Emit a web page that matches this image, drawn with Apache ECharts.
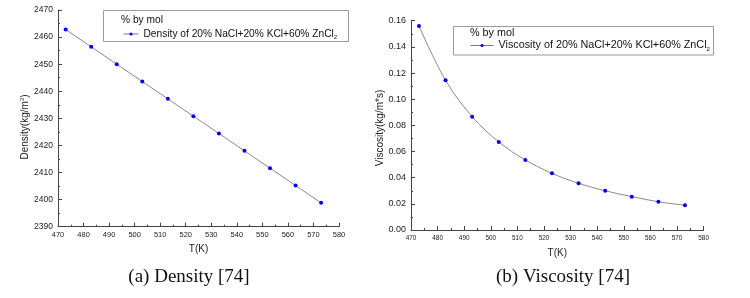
<!DOCTYPE html>
<html><head><meta charset="utf-8">
<script src="https://cdn.jsdelivr.net/npm/echarts@6/dist/echarts.min.js"></script>
<style>html,body{margin:0;padding:0;background:#fff}#c{width:750px;height:298px}</style>
</head><body><div id="c"></div>
<script>
const temps = [473, 483, 493, 503, 513, 523, 533, 543, 553, 563, 573];
const density = [2462.8, 2456.4, 2450.0, 2443.6, 2437.2, 2430.8, 2424.4, 2418.0, 2411.6, 2405.2, 2398.8];
const viscosity = [0.1559, 0.1144, 0.0866, 0.0673, 0.0535, 0.0433, 0.0357, 0.0300, 0.0255, 0.0216, 0.0189];
const densityName = 'Density of 20% NaCl+20% KCl+60% ZnCl2';
const viscosityName = 'Viscosity of 20% NaCl+20% KCl+60% ZnCl2';
const captions = ['(a) Density [74]', '(b) Viscosity [74]'];

const F = 'Liberation Sans, Arial, sans-serif';
const axisCol = '#444';
function xAx(gi, fs, margin) {
  return {
    type: 'value', gridIndex: gi, min: 470, max: 580, interval: 10,
    axisLine: {lineStyle: {color: axisCol, width: 1}},
    axisTick: {inside: true, length: 4, lineStyle: {color: axisCol}},
    minorTick: {show: true, splitNumber: 2, length: 2, lineStyle: {color: axisCol}},
    splitLine: {show: false},
    axisLabel: {fontFamily: F, fontSize: fs, color: '#222', margin: margin},
    name: 'T(K)', nameLocation: 'middle', nameGap: 18,
    nameTextStyle: {fontFamily: F, fontSize: 10, color: '#222'}
  };
}
function yAx(gi, min, max, interval, fs, fmt) {
  return {
    type: 'value', gridIndex: gi, min: min, max: max, interval: interval,
    axisLine: {show: true, lineStyle: {color: axisCol, width: 1}},
    axisTick: {show: true, inside: true, length: 4, lineStyle: {color: axisCol}},
    minorTick: {show: true, splitNumber: 2, length: 2, lineStyle: {color: axisCol}},
    splitLine: {show: false},
    axisLabel: {fontFamily: F, fontSize: fs, color: '#222', margin: 5, formatter: fmt}
  };
}
const supRich = {
  a: {fontFamily: F, fontSize: 10, fill: '#222'},
  s: {fontFamily: F, fontSize: 6, fill: '#222', padding: [0, 0, 6, 0]}
};
const legRich = {
  a: {fontFamily: F, fontSize: 10.2, color: '#111'},
  b: {fontFamily: F, fontSize: 10.8, color: '#111'},
  s: {fontFamily: F, fontSize: 6, color: '#111', padding: [7, 0, 0, 0]}
};
const chart = echarts.init(document.getElementById('c'), null, {renderer: 'canvas'});
chart.setOption({
  animation: false,
  backgroundColor: '#fff',
  grid: [
    {left: 58, top: 10, width: 281, height: 216.7},
    {left: 411, top: 20.7, width: 292.6, height: 209.3}
  ],
  xAxis: [xAx(0, 7.5, 4), xAx(1, 6.4, 5)],
  yAxis: [
    yAx(0, 2390, 2470, 10, 8.5, v => v.toFixed(0)),
    yAx(1, 0, 0.16, 0.02, 9, v => v.toFixed(2))
  ],
  legend: [
    {data: [densityName], left: 123, top: 29, itemWidth: 15, itemHeight: 4, padding: 0,
     lineStyle: {width: 1, color: '#7a7a7a'},
     formatter: () => '{a|Density of 20% NaCl+20% KCl+60% ZnCl}{s|2}', textStyle: {rich: legRich}},
    {data: [viscosityName], left: 470, top: 40, itemWidth: 23, itemHeight: 4, padding: 0,
     lineStyle: {width: 1, color: '#7a7a7a'},
     formatter: () => '{b|Viscosity of 20% NaCl+20% KCl+60% ZnCl}{s|2}', textStyle: {rich: legRich}}
  ],
  series: [
    {name: densityName, type: 'line', xAxisIndex: 0, yAxisIndex: 0,
     data: temps.map((t, i) => [t, density[i]]),
     symbol: 'circle', symbolSize: 4, itemStyle: {color: '#0000ff'},
     lineStyle: {color: '#8a8a8a', width: 1}},
    {name: viscosityName, type: 'line', xAxisIndex: 1, yAxisIndex: 1, smooth: 0.35,
     data: temps.map((t, i) => [t, viscosity[i]]),
     symbol: 'circle', symbolSize: 4, itemStyle: {color: '#0000ff'},
     lineStyle: {color: '#8a8a8a', width: 1}}
  ],
  graphic: [
    {type: 'rect', shape: {x: 103.5, y: 10.5, width: 245, height: 31}, style: {fill: 'transparent', stroke: '#999', lineWidth: 1}, z: 10},
    {type: 'text', x: 121, y: 20, style: {text: '% by mol', font: '10.2px ' + F, fill: '#111', textVerticalAlign: 'middle'}, z: 10},
    {type: 'rect', shape: {x: 453.5, y: 26.5, width: 260, height: 28.5}, style: {fill: 'transparent', stroke: '#999', lineWidth: 1}, z: 10},
    {type: 'text', x: 470, y: 33.5, style: {text: '% by mol', font: '10.8px ' + F, fill: '#111', textVerticalAlign: 'middle'}, z: 10},
    {type: 'text', x: 25, y: 127, rotation: Math.PI / 2,
     style: {text: '{a|Density(kg/m}{s|3}{a|)}', rich: supRich, align: 'center', verticalAlign: 'middle'}, z: 10},
    {type: 'text', x: 380, y: 128, rotation: Math.PI / 2,
     style: {text: 'Viscosity(kg/m*s)', font: '10px ' + F, fill: '#222', align: 'center', verticalAlign: 'middle'}, z: 10},
    {type: 'text', x: 189, y: 277, style: {text: captions[0], font: '19px Liberation Serif, Times New Roman, serif', fill: '#111', textAlign: 'center', textVerticalAlign: 'middle'}},
    {type: 'text', x: 563, y: 277, style: {text: captions[1], font: '19px Liberation Serif, Times New Roman, serif', fill: '#111', textAlign: 'center', textVerticalAlign: 'middle'}}
  ]
});
</script></body></html>
